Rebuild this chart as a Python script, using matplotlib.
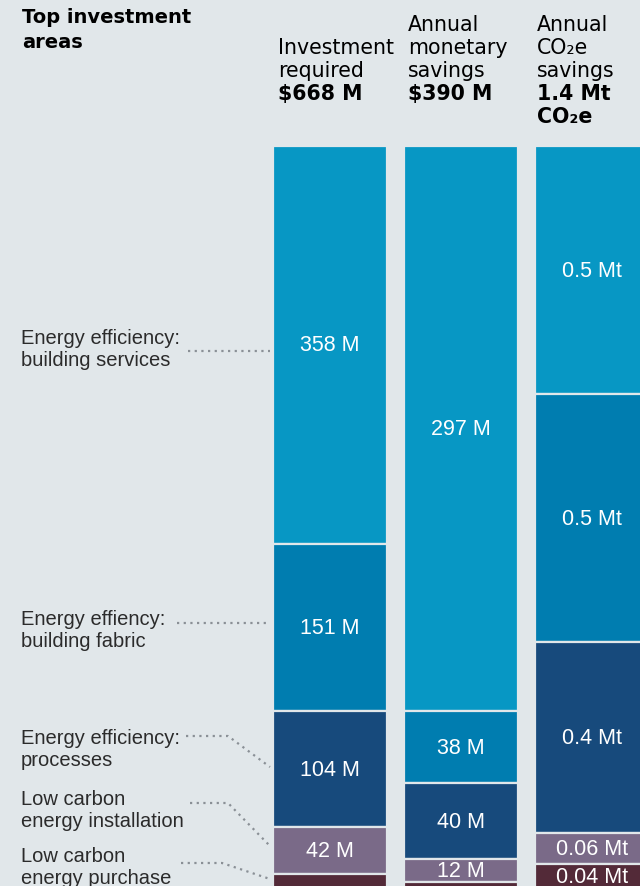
import numpy as np
import matplotlib
matplotlib.use("Agg")
import matplotlib.pyplot as plt

# data, top to bottom in each column
areas = [["Energy efficiency:", "building services"],
         ["Energy effiency:", "building fabric"],
         ["Energy efficiency:", "processes"],
         ["Low carbon", "energy installation"],
         ["Low carbon", "energy purchase"]]
investment = [358, 151, 104, 42, 13]
monetary = [297, 38, 40, 12, 3]
co2 = [0.47, 0.47, 0.36, 0.06, 0.045]

investment_labels = ["358 M", "151 M", "104 M", "42 M", ""]
monetary_labels = ["297 M", "38 M", "40 M", "12 M", ""]
co2_labels = ["0.5 Mt", "0.5 Mt", "0.4 Mt", "0.06 Mt", "0.04 Mt"]

colors = ["#0797c4", "#007db0", "#174a7c", "#7a6a88", "#532a38"]
bg = "#e1e7ea"

W, H = 640, 887
fig = plt.figure(figsize=(W / 100, H / 100), dpi=100)
fig.patch.set_facecolor(bg)

# bar axes: pixel x, y normalised per column (0 top, 1 bottom)
bar_top, bar_bot = 147, 889
ax = fig.add_axes([0, (H - bar_bot) / H, 1, (bar_bot - bar_top) / H])
ax.set_xlim(0, W)
ax.set_ylim(1, 0)
ax.axis("off")
ax.patch.set_alpha(0)

col_x = [330, 461, 592]
col_w = 114
columns = [investment, monetary, co2]
col_labels = [investment_labels, monetary_labels, co2_labels]

for cx, vals, labs in zip(col_x, columns, col_labels):
    vals = np.array(vals, dtype=float)
    frac = vals / vals.sum()
    starts = np.concatenate([[0], np.cumsum(frac)[:-1]])
    ax.bar([cx] * len(vals), frac, bottom=starts, width=col_w,
           color=colors, edgecolor=bg, linewidth=1.6, clip_on=False)
    for s, f, lab in zip(starts, frac, labs):
        if lab:
            ax.text(cx, s + f / 2, lab, ha="center", va="center",
                    color="white", fontsize=15.5, family="Liberation Sans")

# overlay axes in pixel coordinates for text and leader lines
ov = fig.add_axes([0, 0, 1, 1])
ov.set_xlim(0, W)
ov.set_ylim(H, 0)
ov.axis("off")
ov.patch.set_alpha(0)

hdr = dict(family="DejaVu Sans", fontsize=14.8, color="black", va="baseline")
ov.text(22, 23, "Top investment", fontweight="bold", fontsize=14, family="DejaVu Sans",
        color="black", va="baseline")
ov.text(22, 47.5, "areas", fontweight="bold", fontsize=14, family="DejaVu Sans",
        color="black", va="baseline")

header_cols = [
    (278, 54, ["Investment", "required"], ["$668 M"]),
    (408, 31, ["Annual", "monetary", "savings"], ["$390 M"]),
    (537, 31, ["Annual", "CO\u2082e", "savings"], ["1.4 Mt", "CO\u2082e"]),
]
for x0, y0, reg, bold in header_cols:
    y = y0
    for line in reg:
        ov.text(x0, y, line, **hdr)
        y += 23
    for line in bold:
        ov.text(x0, y, line, fontweight="bold", **hdr)
        y += 23

# left labels with dotted leaders
label_y = [344, 625, 744, 805, 862]
leaders = [
    [(188, 352), (270, 352)],
    [(177, 624), (270, 624)],
    [(186, 737), (228, 737), (270, 768)],
    [(190, 804), (228, 804), (270, 847)],
    [(181, 864), (222, 864), (270, 880)],
]
for lines, yb, pts in zip(areas, label_y, leaders):
    for i, line in enumerate(lines):
        ov.text(21, yb + i * 22, line, family="Liberation Sans", fontsize=14.5,
                color="#2b2b2b", va="baseline")
    xs, ys = zip(*pts)
    ov.plot(xs, ys, linestyle=(0, (1, 2)), color="#8a9096", linewidth=1.6)

fig.savefig("out.png", dpi=100, facecolor=bg)
